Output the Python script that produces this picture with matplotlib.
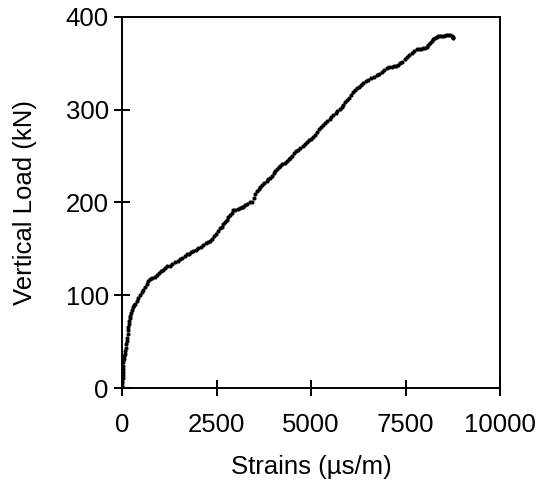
import matplotlib
matplotlib.use("Agg")
import matplotlib.pyplot as plt

plt.rcParams['font.family'] = ['Liberation Sans', 'DejaVu Sans']

# strain (us/m) and vertical load (kN)
strain = [0, 3, 6, 10, 14, 18, 22, 26, 30, 36, 44, 55, 70, 85, 100, 112, 124, 136, 148, 158,
          167, 178, 190, 202, 215, 232, 255, 280, 310, 345, 385, 430, 475, 520, 563, 610, 655, 696, 750, 805,
          860, 918, 975, 1030, 1085, 1138, 1200, 1265, 1330, 1402, 1470, 1535, 1600, 1667, 1720, 1780, 1835, 1886, 1950, 2020,
          2085, 2151, 2210, 2265, 2320, 2373, 2430, 2485, 2540, 2593, 2640, 2685, 2730, 2770, 2815, 2860, 2900, 2944, 3000, 3060,
          3120, 3170, 3209, 3260, 3320, 3380, 3431, 3480, 3530, 3580, 3620, 3651, 3700, 3760, 3830, 3870, 3915, 3960, 4010, 4060,
          4110, 4150, 4180, 4240, 4300, 4360, 4410, 4444, 4500, 4560, 4610, 4664, 4720, 4780, 4840, 4900, 4960, 5010, 5061, 5110,
          5170, 5220, 5270, 5325, 5380, 5430, 5490, 5540, 5590, 5650, 5700, 5760, 5810, 5854, 5910, 5960, 6010, 6060, 6119, 6170,
          6230, 6280, 6330, 6384, 6450, 6520, 6590, 6660, 6738, 6800, 6870, 6940, 7003, 7070, 7140, 7200, 7260, 7310, 7360, 7420,
          7480, 7532, 7600, 7660, 7730, 7796, 7860, 7920, 7970, 8016, 8060, 8100, 8148, 8190, 8240, 8280, 8330, 8370, 8413, 8470,
          8530, 8580, 8630, 8677, 8720, 8750, 8765]
load = [0, 2, 5, 8, 11, 14, 17, 20, 24, 28, 31, 34, 37, 40, 43, 47, 51, 54, 58, 62,
        66, 69, 72, 75, 78, 81, 84, 87, 89, 91, 94, 97, 100, 103, 106, 109, 112, 115, 117, 119,
        120, 122, 124, 126, 127, 129, 131, 132, 134, 136, 137, 139, 140, 142, 144, 145, 147, 148, 149, 151,
        152, 154, 156, 157, 159, 161, 164, 166, 169, 172, 174, 177, 179, 181, 184, 187, 189, 192, 192, 193,
        194, 195, 195, 197, 198, 200, 201, 205, 209, 212, 215, 217, 219, 221, 223, 225, 226, 229, 232, 234,
        236, 238, 239, 241, 243, 245, 247, 248, 250, 253, 255, 257, 259, 261, 263, 265, 267, 269, 271, 273,
        276, 279, 281, 284, 286, 288, 290, 292, 294, 297, 299, 301, 303, 305, 308, 311, 313, 316, 319, 321,
        323, 325, 327, 329, 331, 332, 334, 335, 337, 339, 341, 343, 345, 346, 346, 347, 347, 348, 350, 352,
        355, 357, 359, 361, 363, 365, 366, 366, 367, 367, 368, 370, 372, 374, 376, 377, 378, 379, 380, 380,
        380, 381, 381, 381, 380, 378, 377]

xticks = [0, 2500, 5000, 7500, 10000]
yticks = [0, 100, 200, 300, 400]

fig = plt.figure(figsize=(5.44, 4.86), dpi=100)
ax = fig.add_axes([122 / 544, 1 - 388 / 486, 378 / 544, 371 / 486])

ax.plot(strain, load, 'o', color='black', ms=3.0, mec='none')

ax.set_xlim(0, 10000)
ax.set_ylim(0, 400)
ax.set_xticks(xticks)
ax.set_yticks(yticks)
ax.tick_params(direction='inout', length=12, width=1.4, labelsize=18.5, colors='black')
ax.tick_params(axis='x', pad=12)
for s in ax.spines.values():
    s.set_linewidth(1.4)

ax.set_xlabel('Strains (µs/m)', fontsize=18.5, labelpad=13)
ax.set_ylabel('Vertical Load (kN)', fontsize=18.5, labelpad=21)

fig.savefig('out.png', dpi=100)
